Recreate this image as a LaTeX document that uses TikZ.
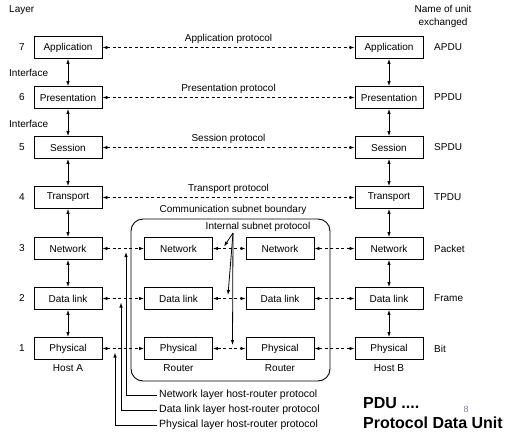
\documentclass[tikz,border=0pt]{standalone}
\usepackage{fontspec}
\setmainfont{Liberation Sans}
\usetikzlibrary{arrows.meta}
\definecolor{slidenum}{RGB}{120,130,160}
\begin{document}
\begin{tikzpicture}[x=1pt,y=-1pt,
  layerbox/.style={draw,line width=0.9pt,minimum width=68pt,minimum height=22pt,inner sep=0pt,font=\fontsize{10}{12}\selectfont},
  txt/.style={font=\fontsize{10}{12}\selectfont,inner sep=0pt},
  smalltxt/.style={font=\fontsize{10.5}{12}\selectfont,inner sep=0pt,anchor=west},
  unitlbl/.style={font=\fontsize{10}{12}\selectfont,inner sep=0pt,anchor=west},
  tipone/.style={line width=0.8pt,-{Latex[length=5pt,width=3.5pt]}},
  tiptwo/.style={line width=0.8pt,{Latex[length=5pt,width=3.5pt]}-{Latex[length=5pt,width=3.5pt]}},
  proto/.style={tiptwo,dash pattern=on 3pt off 2.5pt},
  bigbold/.style={font=\fontsize{16}{18}\selectfont\bfseries,inner sep=0pt,anchor=west}
]
\useasboundingbox (0,0) rectangle (512,437);

% header texts
\node[txt,anchor=west] (hlayer) at (9,10) {Layer};
\node[txt] (hname1) at (443,9) {Name of unit};
\node[txt] (hname2) at (443,23) {exchanged};
\node[txt,anchor=west] (if1) at (9,73) {Interface};
\node[txt,anchor=west] (if2) at (9,124) {Interface};

% layer numbers
\node[txt] (n7) at (22,47.5) {7};
\node[txt] (n6) at (22,97.5) {6};
\node[txt] (n5) at (22,147.5) {5};
\node[txt] (n4) at (22,197.5) {4};
\node[txt] (n3) at (22,248.5) {3};
\node[txt] (n2) at (22,298.5) {2};
\node[txt] (n1) at (22,348.5) {1};

% host A
\node[layerbox] (la) at (68,47.5) {Application};
\node[layerbox] (lp) at (68,97.5) {Presentation};
\node[layerbox] (ls) at (68,147.5) {Session};
\node[layerbox] (lt) at (68,197.5) {Transport};
\node[layerbox] (ln) at (68,248.5) {Network};
\node[layerbox] (ld) at (68,298.5) {Data link};
\node[layerbox] (lph) at (68,348.5) {Physical};
\node[txt] (hosta) at (68,368) {Host A};

% host B
\node[layerbox] (ra) at (389,47.5) {Application};
\node[layerbox] (rp) at (389,97.5) {Presentation};
\node[layerbox] (rs) at (389,147.5) {Session};
\node[layerbox] (rt) at (389,197.5) {Transport};
\node[layerbox] (rn) at (389,248.5) {Network};
\node[layerbox] (rd) at (389,298.5) {Data link};
\node[layerbox] (rph) at (389,348.5) {Physical};
\node[txt] (hostb) at (389,368) {Host B};

% unit names
\node[unitlbl] (u7) at (434,47.5) {APDU};
\node[unitlbl] (u6) at (434,97.5) {PPDU};
\node[unitlbl] (u5) at (434,147.5) {SPDU};
\node[unitlbl] (u4) at (434,197.5) {TPDU};
\node[unitlbl] (u3) at (434,248.5) {Packet};
\node[unitlbl] (u2) at (434,298.5) {Frame};
\node[unitlbl] (u1) at (434,348.5) {Bit};

% subnet boundary
\draw[line width=0.9pt,rounded corners=12pt] (131,219) rectangle (330,381);
\node[txt] (cslbl) at (233,210) {Communication subnet boundary};

% routers
\node[layerbox] (an) at (178.5,248.5) {Network};
\node[layerbox] (ad) at (178.5,298.5) {Data link};
\node[layerbox] (aph) at (178.5,348.5) {Physical};
\node[txt] (rtra) at (178.5,368) {Router};
\node[layerbox] (bn) at (280,248.5) {Network};
\node[layerbox] (bd) at (280,298.5) {Data link};
\node[layerbox] (bph) at (280,348.5) {Physical};
\node[txt] (rtrb) at (280,368) {Router};

% interfaces
\foreach \a/\b in {la/lp,lp/ls,ls/lt,lt/ln,ln/ld,ld/lph,ra/rp,rp/rs,rs/rt,rt/rn,rn/rd,rd/rph}
  \draw[tiptwo] (\a.south) -- (\b.north);

% peer protocols
\draw[proto] (la.east) -- node[txt,midway,yshift=8.5pt] {Application protocol} (ra.west);
\draw[proto] (lp.east) -- node[txt,midway,yshift=8.5pt] {Presentation protocol} (rp.west);
\draw[proto] (ls.east) -- node[txt,midway,yshift=8.5pt] {Session protocol} (rs.west);
\draw[proto] (lt.east) -- node[txt,midway,yshift=8.5pt] {Transport protocol} (rt.west);

\foreach \a/\b in {ln/an,ld/ad,lph/aph,an/bn,ad/bd,aph/bph,bn/rn,bd/rd,bph/rph}
  \draw[proto] (\a.east) -- (\b.west);

% internal subnet protocol
\node[txt] (islbl) at (258,227) {Internal subnet protocol};
\coordinate (isrc) at (233,233);
\coordinate (ist3) at (224,246.5);
\coordinate (ist2) at (228,295);
\coordinate (ist1) at (232.5,345);
\draw[tipone] (isrc) -- (ist3);
\draw[tipone] (isrc) -- (ist2);
\draw[tipone] (isrc) -- (ist1);

% host-router protocols
\node[smalltxt] (hr3) at (159,395) {Network layer host-router protocol};
\node[smalltxt] (hr2) at (159,410) {Data link layer host-router protocol};
\node[smalltxt] (hr1) at (159,425) {Physical layer host-router protocol};
\coordinate (hrt3) at (126,252);
\coordinate (hrt2) at (121,302.5);
\coordinate (hrt1) at (115,352.5);
\draw[tipone] ([xshift=-2pt]hr3.west) -| (hrt3);
\draw[tipone] ([xshift=-2pt]hr2.west) -| (hrt2);
\draw[tipone] ([xshift=-2pt]hr1.west) -| (hrt1);

% PDU note
\node[bigbold] (pdu1) at (363,403) {PDU ....};
\node[bigbold] (pdu2) at (363,423) {Protocol Data Unit};
\node[font=\fontsize{9}{10}\selectfont,text=slidenum,inner sep=0pt] (slnum) at (466,409) {8};
\end{tikzpicture}
\end{document}
